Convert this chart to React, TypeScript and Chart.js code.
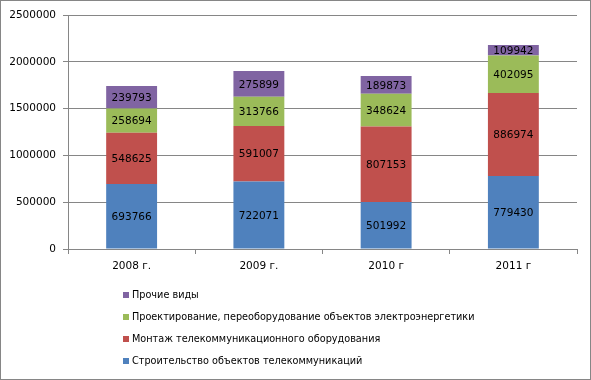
import React, { useEffect, useRef } from "react";
import { Chart, registerables } from "chart.js";

Chart.register(...registerables);

const categories = ["2008 г.", "2009 г.", "2010 г", "2011 г"];
const construction = [693766, 722071, 501992, 779430];
const mounting = [548625, 591007, 807153, 886974];
const design = [258694, 313766, 348624, 402095];
const other = [239793, 275899, 189873, 109942];
const seriesNames = [
  "Строительство объектов телекоммуникаций",
  "Монтаж телекоммуникационного оборудования",
  "Проектирование, переоборудование объектов электроэнергетики",
  "Прочие виды",
];
const seriesColors = ["#4F81BD", "#C0504D", "#9BBB59", "#8064A2"];
const yMax = 2500000;
const yStep = 500000;

const FONT = "'DejaVu Sans', sans-serif";

const labelsPlugin = {
  id: "segLabels",
  afterDatasetsDraw(chart: any) {
    const ctx = chart.ctx;
    ctx.save();
    ctx.font = `10.5px ${FONT}`;
    ctx.fillStyle = "#000";
    ctx.textAlign = "center";
    ctx.textBaseline = "middle";
    chart.data.datasets.forEach((ds: any, i: number) => {
      const meta = chart.getDatasetMeta(i);
      meta.data.forEach((el: any, j: number) => {
        const cy = (el.y + el.base) / 2;
        ctx.fillText(String(ds.data[j]), el.x, cy + 1);
      });
    });
    ctx.restore();
  },
};

const legendPlugin = {
  id: "vLegend",
  afterDraw(chart: any) {
    const ctx = chart.ctx;
    ctx.save();
    ctx.font = `9.7px ${FONT}`;
    ctx.textAlign = "left";
    ctx.textBaseline = "middle";
    const n = chart.data.datasets.length;
    for (let k = 0; k < n; k++) {
      const i = n - 1 - k;
      const ds = chart.data.datasets[i];
      const y = 295 + k * 22;
      ctx.fillStyle = ds.backgroundColor;
      ctx.fillRect(123, y - 3, 6, 6);
      ctx.fillStyle = "#000";
      ctx.fillText(ds.label, 132, y);
    }
    // outer border
    ctx.strokeStyle = "#868686";
    ctx.lineWidth = 1;
    ctx.strokeRect(0.5, 0.5, chart.width - 1, chart.height - 1);
    ctx.restore();
  },
};

export default function App() {
  const ref = useRef<HTMLCanvasElement>(null);
  useEffect(() => {
    document.body.style.margin = "0";
    const values = [construction, mounting, design, other];
    const chart = new Chart(ref.current!, {
      type: "bar",
      data: {
        labels: categories,
        datasets: values.map((d, i) => ({
          label: seriesNames[i],
          data: d,
          backgroundColor: seriesColors[i],
          borderWidth: 0,
          categoryPercentage: 1,
          barPercentage: 0.4,
        })),
      },
      options: {
        responsive: false,
        animation: false,
        devicePixelRatio: 1,
        layout: { padding: { top: 15, right: 14, left: 0, bottom: 0 } },
        plugins: {
          legend: { display: false },
          tooltip: { enabled: false },
        },
        scales: {
          x: {
            stacked: true,
            grid: {
              drawOnChartArea: false,
              drawTicks: true,
              tickLength: 5,
              color: "#868686",
              offset: true,
            },
            border: { color: "#868686" },
            ticks: {
              color: "#000",
              font: { family: FONT, size: 10.5 },
              padding: 6,
              maxRotation: 0,
            },
            afterFit: (s: any) => {
              s.height = 131;
            },
          },
          y: {
            stacked: true,
            min: 0,
            max: yMax,
            ticks: {
              stepSize: yStep,
              color: "#000",
              font: { family: FONT, size: 10.5 },
              padding: 7,
              callback: (v: any) => String(v),
            },
            grid: {
              color: "#868686",
              tickLength: 5,
            },
            border: { color: "#868686" },
            afterFit: (s: any) => {
              s.width = 68;
            },
          },
        },
      },
      plugins: [labelsPlugin, legendPlugin],
    });
    return () => chart.destroy();
  }, []);
  return (
    <div style={{ width: 591, height: 380 }}>
      <canvas ref={ref} width={591} height={380} style={{ display: "block" }} />
    </div>
  );
}
